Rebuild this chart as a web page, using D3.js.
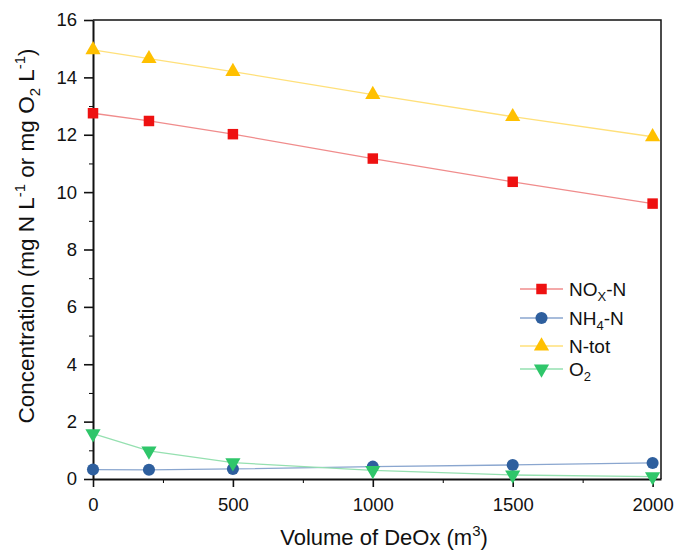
<!DOCTYPE html>
<html>
<head>
<meta charset="utf-8">
<script src="https://cdn.jsdelivr.net/npm/d3@7"></script>
<style>
  body { margin: 0; background: #fff; }
  svg { display: block; font-family: "Liberation Sans", Arial, sans-serif; }
</style>
</head>
<body>
<svg id="chart" width="676" height="552"></svg>
<script>
"use strict";

// data
var volumes = [0, 200, 500, 1000, 1500, 2000];
var noxN = [12.75, 12.48, 12.02, 11.17, 10.36, 9.60];
var nh4N = [0.33, 0.32, 0.35, 0.43, 0.49, 0.56];
var nTot = [14.96, 14.65, 14.20, 13.40, 12.63, 11.93];
var o2 = [1.58, 0.98, 0.57, 0.30, 0.14, 0.08];

var xTicks = [0, 500, 1000, 1500, 2000];
var yTicks = [0, 2, 4, 6, 8, 10, 12, 14, 16];

var series = [
    { name: 'NOx', values: noxN, symbol: d3.symbolSquare, size: 110, fill: '#ee1111', line: '#f08c8c' },
    { name: 'NH4', values: nh4N, symbol: d3.symbolCircle, size: 115, fill: '#2e5f9e', line: '#8aa6cf' },
    { name: 'Ntot', values: nTot, symbol: d3.symbolTriangle, size: 100, fill: '#ffc000', line: '#ffe07a' },
    { name: 'O2', values: o2, symbol: d3.symbolTriangle, size: 100, fill: '#2fc66a', line: '#95e0b0', flip: true }
];

var margin = { top: 20, right: 15, bottom: 73, left: 93 };
var width = 676 - margin.left - margin.right;
var height = 552 - margin.top - margin.bottom;

var svg = d3.select('#chart');
var g = svg.append('g')
    .attr('transform', 'translate(' + margin.left + ',' + margin.top + ')');

var x = d3.scaleLinear().domain([0, 2030]).range([0, width]);
var y = d3.scaleLinear().domain([0, 16]).range([height, 0]);

// minor ticks first so the major ones draw on top
g.append('g')
    .attr('transform', 'translate(0,' + height + ')')
    .call(d3.axisBottom(x).tickValues(d3.range(250, 2000, 500)).tickSize(4).tickFormat(''))
    .call(function(a) { a.select('.domain').remove(); });

g.append('g')
    .call(d3.axisLeft(y).tickValues(d3.range(1, 16, 2)).tickSize(4).tickFormat(''))
    .call(function(a) { a.select('.domain').remove(); });

var xAxis = g.append('g')
    .attr('class', 'x axis')
    .attr('transform', 'translate(0,' + height + ')')
    .call(d3.axisBottom(x).tickValues(xTicks).tickSize(8).tickSizeOuter(0).tickPadding(11).tickFormat(d3.format('d')));

var yAxis = g.append('g')
    .attr('class', 'y axis')
    .call(d3.axisLeft(y).tickValues(yTicks).tickSize(9).tickSizeOuter(0).tickPadding(7));

[xAxis, yAxis].forEach(function(a) {
    a.attr('font-family', null).attr('font-size', null);
    a.selectAll('text').style('font-size', '18.5px').attr('fill', '#111');
    a.selectAll('line').attr('stroke', '#111').attr('stroke-width', 1.6);
    a.select('.domain').attr('stroke', '#111').attr('stroke-width', 2);
});

// frame top and right
g.append('path')
    .attr('d', 'M0,0H' + width + 'V' + height)
    .attr('fill', 'none')
    .attr('stroke', '#111')
    .attr('stroke-width', 1.5);

var line = d3.line()
    .x(function(d, i) { return x(volumes[i]); })
    .y(function(d) { return y(d); });

series.forEach(function(s) {
    g.append('path')
        .datum(s.values)
        .attr('fill', 'none')
        .attr('stroke', s.line)
        .attr('stroke-width', 1.3)
        .attr('d', line);
});

series.forEach(function(s) {
    g.selectAll(null)
        .data(s.values)
        .enter()
        .append('path')
        .attr('d', d3.symbol().type(s.symbol).size(s.size))
        .attr('fill', s.fill)
        .attr('transform', function(d, i) {
            return 'translate(' + x(volumes[i]) + ',' + y(d) + ')' + (s.flip ? ' rotate(180)' : '');
        });
});

// legend
var legendRows = [289, 318, 346, 369];
var legend = svg.append('g').attr('class', 'legend');
series.forEach(function(s, i) {
    var row = legend.append('g').attr('transform', 'translate(520,' + legendRows[i] + ')');
    row.append('line')
        .attr('x1', 0).attr('x2', 43)
        .attr('stroke', s.line).attr('stroke-width', 1.5);
    row.append('path')
        .attr('d', d3.symbol().type(s.symbol).size(s.size))
        .attr('fill', s.fill)
        .attr('transform', 'translate(21.5,0)' + (s.flip ? ' rotate(180)' : ''));
    var t = row.append('text')
        .attr('x', 49)
        .attr('dy', '0.36em')
        .style('font-size', '19px')
        .attr('fill', '#111');
    if (s.name === 'NOx') {
        t.append('tspan').text('NO');
        t.append('tspan').attr('dy', 5).style('font-size', '13px').text('X');
        t.append('tspan').attr('dy', -5).text('-N');
    } else if (s.name === 'NH4') {
        t.append('tspan').text('NH');
        t.append('tspan').attr('dy', 5).style('font-size', '13px').text('4');
        t.append('tspan').attr('dy', -5).text('-N');
    } else if (s.name === 'Ntot') {
        t.text('N-tot');
    } else {
        t.append('tspan').text('O');
        t.append('tspan').attr('dy', 5).style('font-size', '13px').text('2');
    }
});

// axis titles
var xTitle = svg.append('text')
    .attr('x', 384)
    .attr('y', 545)
    .attr('text-anchor', 'middle')
    .style('font-size', '22px')
    .attr('fill', '#111');
xTitle.append('tspan').text('Volume of DeOx (m');
xTitle.append('tspan').attr('dy', -9).style('font-size', '15px').text('3');
xTitle.append('tspan').attr('dy', 9).text(')');

var yTitle = svg.append('text')
    .attr('transform', 'translate(34,236) rotate(-90)')
    .attr('text-anchor', 'middle')
    .style('font-size', '22.5px')
    .attr('fill', '#111');
yTitle.append('tspan').text('Concentration (mg N L');
yTitle.append('tspan').attr('dy', -9).style('font-size', '15px').text('-1');
yTitle.append('tspan').attr('dy', 9).text(' or mg O');
yTitle.append('tspan').attr('dy', 6).style('font-size', '15px').text('2');
yTitle.append('tspan').attr('dy', -6).text(' L');
yTitle.append('tspan').attr('dy', -9).style('font-size', '15px').text('-1');
yTitle.append('tspan').attr('dy', 9).text(')');
</script>
</body>
</html>
